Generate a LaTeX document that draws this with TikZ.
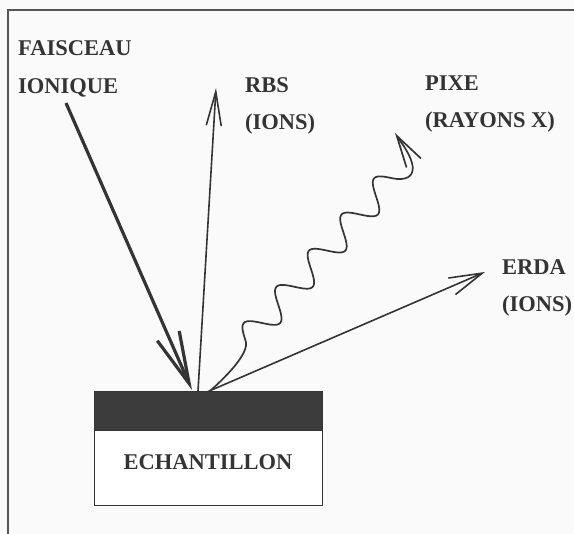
\documentclass[tikz,border=0pt]{standalone}
\usepackage{fontspec}
\setmainfont{Liberation Serif}
\usetikzlibrary{arrows.meta}
\definecolor{ink}{RGB}{52,52,52}
\definecolor{framec}{RGB}{85,85,85}
\definecolor{layerfill}{RGB}{60,60,60}
\definecolor{bg}{RGB}{250,250,250}
\begin{document}
\begin{tikzpicture}[x=1pt,y=-1pt,
  lbl/.style={font=\fontsize{22.5}{27}\selectfont\bfseries, text=ink, inner sep=0pt, anchor=base west},
  ray/.style={draw=ink, line width=1.6pt},
  beamline/.style={draw=ink, line width=3.2pt},
  framel/.style={draw=framec, line width=1.2pt}]
\fill[bg] (0,0) rectangle (574,534);
\useasboundingbox (0,0) rectangle (574,534);
% frame
\draw[framel] (8,534) -- (8,10) -- (574,10);
% labels
\node[lbl] (faisceau) at (18,55.5) {FAISCEAU};
\node[lbl] (ionique) at (18,93.5) {IONIQUE};
\node[lbl] (rbs) at (245,92.5) {RBS};
\node[lbl] (rbsions) at (245,129.5) {(IONS)};
\node[lbl] (pixe) at (425,90.5) {PIXE};
\node[lbl] (rayons) at (425,127.5) {(RAYONS X)};
\node[lbl] (erda) at (502,274.5) {ERDA};
\node[lbl] (erdaions) at (502,311.5) {(IONS)};
% sample
\node[draw=ink, line width=1pt, fill=white, minimum width=228pt, minimum height=75pt, inner sep=0pt] (sample) at (208,468.5) {};
\node[draw=ink, line width=1pt, fill=layerfill, minimum width=228pt, minimum height=39pt, inner sep=0pt] (layer) at (208,411.5) {};
\node[lbl, anchor=base] (samplelabel) at (208,469.5) {ECHANTILLON};
% coordinates
\coordinate (beamsrc) at (66,103);
\coordinate (hit) at (192,390);
\coordinate (rbsfoot) at (198,391);
\coordinate (rbstip) at (216,88);
\coordinate (erdafoot) at (207,392);
\coordinate (erdatip) at (485,272);
\coordinate (pixefoot) at (210,391);
\coordinate (pixetip) at (395,133);
% beam
\draw[beamline, -{Straight Barb[length=52pt,width=24pt]}] (beamsrc) -- (hit);
% RBS
\draw[ray, -{Straight Barb[length=34pt,width=15pt]}] (rbsfoot) -- (rbstip);
% ERDA
\draw[ray, -{Straight Barb[length=33pt,width=18pt]}] (erdafoot) -- (erdatip);
% PIXE wave
\draw[ray, line width=1.7pt, -{Straight Barb[length=32pt,width=17pt]}] (pixefoot)
  .. controls (228,375) and (249.5,352.5) .. (245.7,341.1)
  -- plot[domain=-24.35:194.8, samples=160, smooth]
     ({262+0.669*\x+10.03*sin(7.392*\x)}, {323-0.743*\x+9.03*sin(7.392*\x)})
  .. controls (404,180.8) and (416,178) .. (412,163)
  .. controls (409,152) and (400,141) .. (pixetip);
\end{tikzpicture}
\end{document}
